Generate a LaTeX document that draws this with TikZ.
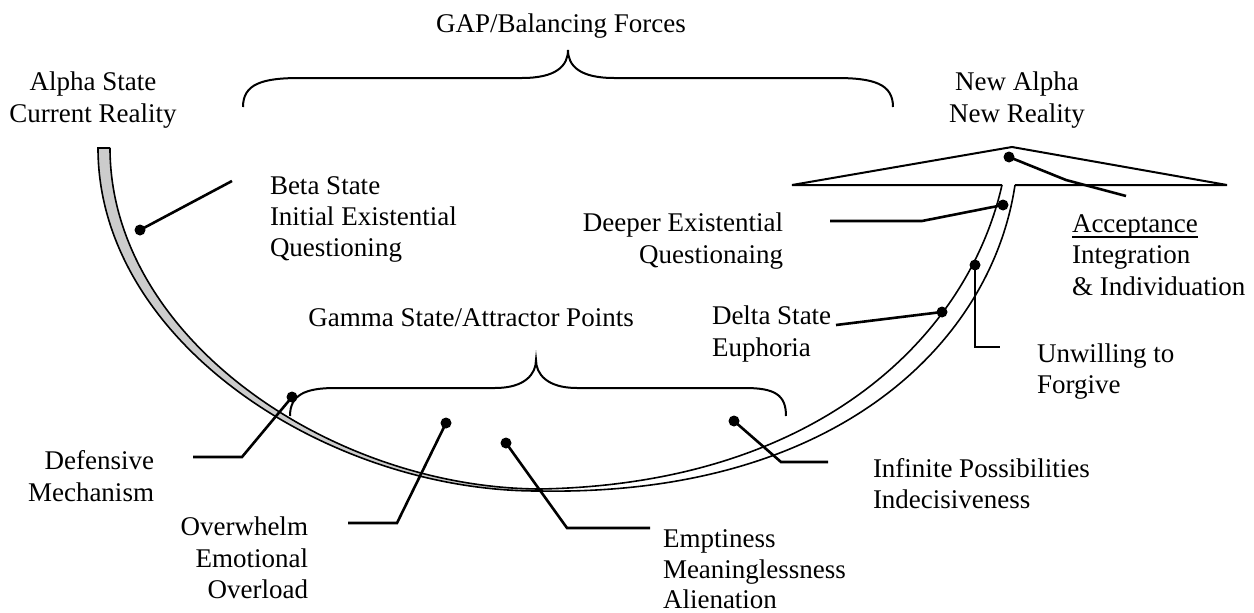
\documentclass[tikz,border=0pt]{standalone}
\usepackage{fontspec}
\setmainfont{Liberation Serif}
\begin{document}
\begin{tikzpicture}[x=1pt,y=-1pt,
  lbl/.style={font=\fontsize{27}{31}\selectfont, inner sep=0pt, outer sep=0pt},
  dotnode/.style={circle, fill=black, inner sep=0pt, minimum size=11pt, outer sep=0pt},
  conn/.style={line width=2.6pt, line join=miter},
  bandline/.style={line width=1.6pt},
  bracestyle/.style={line width=2pt},
  roof/.style={line width=2pt, line join=miter}]
\useasboundingbox (0,0) rectangle (1254,613);

% ---- band (the curve) ----
\fill[gray!40] (98,148) .. controls (98,343) and (330,492) .. (540,491)
  -- (540,489) .. controls (330,488) and (110,337) .. (110,148) -- cycle;
\draw[bandline] (110,148) -- (98,148) .. controls (98,343) and (330,492) .. (540,491)
  .. controls (840,496) and (992,340) .. (1015,185);
\draw[bandline] (110,148) .. controls (110,337) and (330,488) .. (540,489)
  .. controls (820,484) and (968,335) .. (1002,185);

% ---- roof ----
\draw[roof] (1002,185) -- (792,185) -- (1012,147) -- (1227,185) -- (1015,185);

% ---- braces ----
\draw[bracestyle] (243,107) .. controls (243,84) and (262,78) .. (300,78) -- (522,78)
  .. controls (556,78) and (568,66) .. (568,50)
  .. controls (568,66) and (580,78) .. (614,78) -- (836,78)
  .. controls (874,78) and (893,84) .. (893,107);
\draw[bracestyle] (290,416) .. controls (290,395) and (305,388) .. (335,388) -- (495,388)
  .. controls (525,388) and (536,374) .. (536,360)
  .. controls (536,374) and (547,388) .. (577,388) -- (745,388)
  .. controls (775,388) and (786,395) .. (786,416);

% ---- labels ----
\node[lbl, anchor=base] (gap) at (561,32) {GAP/Balancing Forces};
\node[lbl, anchor=base] (alpha1) at (93,90) {Alpha State};
\node[lbl, anchor=base] (alpha2) at (93,122) {Current Reality};
\node[lbl, anchor=base] (new1) at (1017,90) {New Alpha};
\node[lbl, anchor=base] (new2) at (1017,122) {New Reality};
\node[lbl, anchor=base west] (beta1) at (270,194) {Beta State};
\node[lbl, anchor=base west] (beta2) at (270,225) {Initial Existential};
\node[lbl, anchor=base west] (beta3) at (270,256) {Questioning};
\node[lbl, anchor=base east] (deep1) at (783,231) {Deeper Existential};
\node[lbl, anchor=base east] (deep2) at (783,263) {Questionaing};
\node[lbl, anchor=base west] (acc1) at (1072,232) {Acceptance};
\node[lbl, anchor=base west] (acc2) at (1072,263) {Integration};
\node[lbl, anchor=base west] (acc3) at (1072,295) {\& Individuation};
\draw[line width=1.4pt] ([yshift=-5pt]acc1.base west) -- ([yshift=-5pt]acc1.base east);
\node[lbl, anchor=base west] (delta1) at (712,324) {Delta State};
\node[lbl, anchor=base west] (delta2) at (712,356) {Euphoria};
\node[lbl, anchor=base] (gamma) at (471,326) {Gamma State/Attractor Points};
\node[lbl, anchor=base west] (unw1) at (1037,362) {Unwilling to};
\node[lbl, anchor=base west] (unw2) at (1037,393) {Forgive};
\node[lbl, anchor=base east] (def1) at (154,469) {Defensive};
\node[lbl, anchor=base east] (def2) at (154,501) {Mechanism};
\node[lbl, anchor=base east] (ovw1) at (308,535) {Overwhelm};
\node[lbl, anchor=base east] (ovw2) at (308,567) {Emotional};
\node[lbl, anchor=base east] (ovw3) at (308,598) {Overload};
\node[lbl, anchor=base west] (emp1) at (663,547) {Emptiness};
\node[lbl, anchor=base west] (emp2) at (663,578) {Meaninglessness};
\node[lbl, anchor=base west] (emp3) at (663,608) {Alienation};
\node[lbl, anchor=base west] (inf1) at (873,477) {Infinite Possibilities};
\node[lbl, anchor=base west] (inf2) at (873,508) {Indecisiveness};

% ---- connectors ----
\node[dotnode] (dbeta) at (140,230) {};
\coordinate (ebeta) at (232,181);
\draw[conn] (dbeta.center) -- (ebeta);

\node[dotnode] (ddef) at (292,397) {};
\coordinate (bdef) at (242,457);
\coordinate (edef) at (193,457);
\draw[conn] (ddef.center) -- (bdef) -- (edef);

\node[dotnode] (dovw) at (446,423) {};
\coordinate (bovw) at (397,523);
\coordinate (eovw) at (348,523);
\draw[conn] (dovw.center) -- (bovw) -- (eovw);

\node[dotnode] (demp) at (506,443) {};
\coordinate (bemp) at (567,528);
\coordinate (eemp) at (650,528);
\draw[conn] (demp.center) -- (bemp) -- (eemp);

\node[dotnode] (dinf) at (734,421) {};
\coordinate (binf) at (781,462);
\coordinate (einf) at (828,462);
\draw[conn] (dinf.center) -- (binf) -- (einf);

\node[dotnode] (ddelta) at (942,312) {};
\coordinate (edelta) at (836,325);
\draw[conn] (ddelta.center) -- (edelta);

\node[dotnode] (dunw) at (975,265) {};
\coordinate (bunw) at (975,347);
\coordinate (eunw) at (1000,347);
\draw[conn] (dunw.center) -- (bunw) -- (eunw);

\node[dotnode] (ddeep) at (1003,205) {};
\coordinate (bdeep) at (922,221);
\coordinate (edeep) at (830,221);
\draw[conn] (ddeep.center) -- (bdeep) -- (edeep);

\node[dotnode] (dacc) at (1009,157) {};
\coordinate (bacc) at (1066,180);
\coordinate (eacc) at (1126,196);
\draw[conn] (dacc.center) -- (bacc) -- (eacc);
\end{tikzpicture}
\end{document}
